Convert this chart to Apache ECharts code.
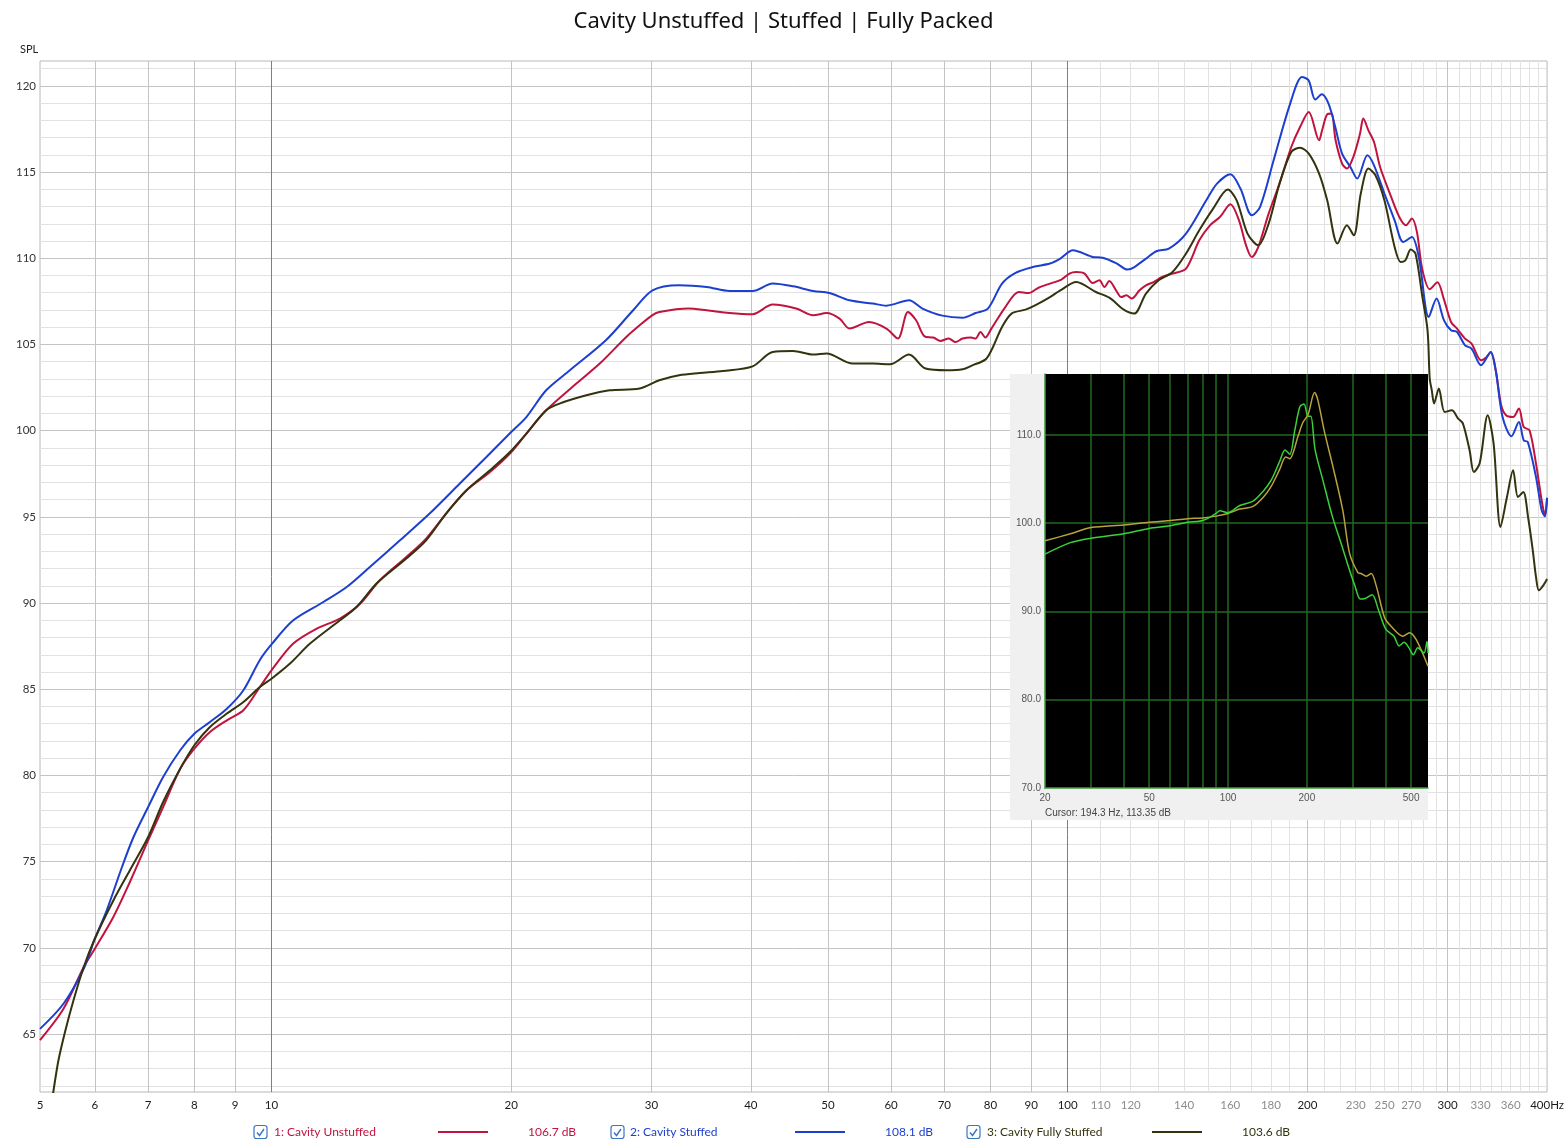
<!DOCTYPE html>
<html>
<head>
<meta charset="utf-8">
<script src="https://cdn.jsdelivr.net/npm/echarts@6/dist/echarts.min.js"></script>
<style>
html,body{margin:0;padding:0;background:#fff;}
#chart{width:1567px;height:1144px;}
</style>
</head>
<body>
<div id="chart"></div>
<script>
// ---------- DATA ----------
const chartTitle = 'Cavity Unstuffed | Stuffed | Fully Packed';
const seriesNames = ['1: Cavity Unstuffed', '2: Cavity Stuffed', '3: Cavity Fully Stuffed'];
const seriesReadouts = ['106.7 dB', '108.1 dB', '103.6 dB'];

const redFreq = [5.12,5.48,5.81,6.0,6.33,6.64,7.0,7.31,7.68,8.0,8.37,8.79,9.22,9.67,10.0,10.65,11.4,12.19,12.93,13.68,14.77,15.64,16.57,17.58,18.81,19.93,20.9,22.13,24.15,25.84,27.9,29.0,30.1,30.7,33.4,35.2,37.6,40.2,42.6,45.6,47.9,49.8,51.7,53.2,56.3,59.2,61.2,63.0,64.5,66.1,67.8,69.2,70.9,72.3,73.8,75.6,76.6,77.7,78.8,80.2,83.5,86.8,89.3,91.9,95.0,98.2,100.5,102.5,105.0,107.5,109.6,111.2,112.8,115.0,116.8,118.5,120.3,123.1,125.4,128.2,131.4,135.4,140.8,146.3,150.9,155.3,160.1,164.1,167.5,170.3,173.5,178.8,184.5,190.9,195.8,200.8,206.9,208.7,211.8,214.4,217.0,221.1,224.2,228.4,232.9,235.1,238.6,242.5,246.8,253.9,260.9,266.0,270.6,274.6,278.7,284.9,291.3,296.9,303.0,308.3,315.5,321.5,330.5,335.9,339.8,344.8,350.3,355.3,362.6,368.7,373.9,380.2,387.4,393.8,397.5,400];
const redSpl = [64.65,66.47,68.89,69.95,71.79,73.82,76.23,78.17,80.39,81.55,82.52,83.2,83.78,85.13,86.1,87.65,88.52,89.1,89.97,91.32,92.67,93.74,95.19,96.54,97.6,98.67,99.83,101.18,102.73,103.89,105.43,106.11,106.7,106.88,107.08,106.98,106.82,106.75,107.31,107.08,106.69,106.82,106.5,105.92,106.3,105.92,105.34,106.88,106.4,105.47,105.4,105.2,105.34,105.14,105.34,105.4,105.34,105.72,105.4,105.92,107.17,108.04,107.98,108.29,108.53,108.76,109.11,109.2,109.11,108.56,108.72,108.33,108.68,108.14,107.75,107.85,107.66,108.14,108.43,108.62,108.91,109.11,109.4,111.04,111.91,112.39,113.13,112.2,110.75,110.07,110.65,112.59,114.33,116.45,117.61,118.48,116.84,117.42,118.35,118.39,116.84,115.49,115.2,115.87,117.23,118.1,117.42,116.74,115.29,113.75,112.39,111.91,112.3,111.5,109.4,108.2,108.6,107.6,106.3,105.92,105.34,105.05,104.08,104.27,104.56,103.5,101.47,100.89,100.79,101.28,100.21,100.02,98.09,95.96,95.09,96.1];

const blueFreq = [5.12,5.48,5.81,6.0,6.21,6.49,6.71,7.0,7.31,7.68,8.0,8.37,8.79,9.22,9.67,10.0,10.65,11.62,12.43,13.29,14.5,15.8,17.24,18.62,20.0,20.9,22.13,23.7,26.3,28.46,30.1,32.5,35.2,37.6,40.2,42.6,45.2,47.9,50.2,53.2,56.9,59.2,63.2,65.7,69.6,73.8,76.6,79.4,82.7,85.9,90.4,95.0,97.9,101.5,107.5,110.6,115.0,118.9,121.3,125.4,129.4,134.0,140.8,149.3,154.0,160.1,164.8,170.3,174.4,181.4,190.3,196.9,200.7,204.6,208.5,212.6,216.8,221.1,226.5,231.0,237.9,242.5,249.9,257.4,263.9,270.6,276.2,284.1,290.6,296.9,303.0,308.3,315.5,321.5,330.5,339.8,344.8,351.7,360.8,368.7,373.9,378.3,387.4,393.8,397.5,400];
const blueSpl = [65.3,66.76,68.79,70.53,72.18,74.69,76.43,78.17,79.91,81.46,82.42,83.1,83.87,84.94,86.7,87.6,89.0,90.06,90.93,92.09,93.64,95.19,96.93,98.47,99.92,100.79,102.34,103.5,105.24,106.98,108.14,108.43,108.33,108.1,108.1,108.53,108.37,108.1,107.98,107.56,107.37,107.25,107.56,107.08,106.67,106.55,106.82,107.08,108.53,109.14,109.49,109.69,109.98,110.46,110.07,110.03,109.72,109.34,109.49,109.98,110.42,110.56,111.43,113.36,114.33,114.87,114.04,112.49,112.97,115.68,118.97,120.51,120.32,119.2,119.51,118.97,117.61,116.07,115.29,114.62,115.97,115.39,113.75,112.2,110.94,111.23,110.0,106.59,107.66,106.4,105.82,105.72,104.95,104.76,103.79,104.56,103.5,100.79,99.67,100.5,99.44,99.34,97.31,95.38,95.03,96.1];

const oliveFreq = [5.2,5.32,5.4,5.51,5.64,5.81,6.0,6.33,6.64,7.0,7.31,7.68,8.0,8.37,8.79,9.22,9.67,10.0,10.55,11.18,12.19,12.79,13.55,14.77,15.64,16.57,17.58,18.81,19.93,20.9,22.13,23.0,24.86,26.59,28.99,30.7,32.5,34.5,36.9,40.2,42.6,45.2,47.9,49.8,53.7,56.9,59.8,63.2,66.3,70.5,73.8,75.9,78.8,80.2,82.7,85.0,88.5,91.0,95.0,97.9,102.5,108.5,112.8,117.6,121.2,125.4,130.1,135.4,140.8,146.3,152.3,158.9,163.0,168.2,173.5,178.8,184.5,190.9,195.8,200.8,206.9,211.8,218.2,224.2,228.7,233.4,238.6,243.5,249.9,257.4,261.9,265.5,269.7,273.4,278.7,283.1,284.9,286.6,288.5,292.5,297.5,303.7,309.3,313.6,319.7,323.7,329.1,336.9,342.7,349.6,356.2,362.6,367.7,373.4,378.6,383.8,387.4,390.6,395.7,400];
const oliveSpl = [58.5,61.62,63.47,65.21,66.95,68.89,70.53,72.75,74.5,76.43,78.46,80.39,81.75,82.81,83.59,84.26,85.13,85.61,86.49,87.65,89.0,89.77,91.13,92.58,93.64,95.19,96.54,97.7,98.76,99.83,101.18,101.57,102.05,102.34,102.44,102.92,103.21,103.34,103.46,103.73,104.56,104.62,104.41,104.47,103.89,103.89,103.85,104.41,103.6,103.5,103.56,103.79,104.12,104.66,106.01,106.79,107.02,107.27,107.75,108.14,108.62,108.04,107.71,107.02,106.79,107.95,108.72,109.2,110.27,111.62,112.88,113.98,113.36,111.43,110.75,112.01,114.33,116.16,116.41,116.07,114.91,113.36,110.85,111.91,111.33,113.75,115.2,114.81,113.36,110.65,109.78,109.88,110.5,110.27,107.85,105.82,103.0,102.34,101.57,102.44,101.08,101.18,100.7,100.41,98.86,97.6,98.09,100.89,99.25,94.41,96.15,97.7,96.15,96.44,94.99,93.06,91.51,90.74,91.03,91.4];

// inset (pasted measurement screenshot)
const insetYellowFreq = [20,25,30,40,50,60,70,80,90,100,110.8,124.6,136,146.3,157.4,166,172,185,193,202,214,220,234,251,274,291,313,322,337,352,368,396,420,465,493,523,580];
const insetYellowSpl = [98.0,98.8,99.5,99.8,100.1,100.3,100.5,100.6,100.8,101.1,101.6,101.9,102.9,104.2,106.1,107.5,107.3,109.85,111.4,112.3,114.8,114.0,110.2,106.5,101.5,96.6,94.4,94.3,94.0,94.3,92.9,89.3,88.3,87.2,87.6,86.8,83.8];
const insetGreenFreq = [20,25,30,40,50,60,70,80,90,93,100,110.8,124.6,136,146.3,157.4,165,172,180,188,195,202,207,215,230,250,275,290,305,320,335,355,375,400,430,450,470,490,510,530,560,575,580];
const insetGreenSpl = [96.5,97.8,98.3,98.8,99.4,99.7,100.1,100.3,101.1,101.4,101.2,102.0,102.5,103.6,104.9,107.0,108.3,107.8,110.6,113.2,113.5,112.1,112.1,108.3,104.9,100.8,97.0,94.8,92.9,91.4,91.5,91.9,90.2,88.0,87.2,86.1,86.5,85.9,85.1,85.9,85.3,86.6,85.3];
const insetCursorHz = 194.3;
const insetCursorText = 'Cursor: 194.3 Hz, 113.35 dB';

// axis ticks / labels
const xLabelValues = [5.12,6,7,8,9,10,20,30,40,50,60,70,80,90,100,110,120,140,160,180,200,230,250,270,300,330,360,400];
const xGreyLabels = [110,120,140,160,180,230,250,270,330,360];
const xGridMedium = [6,7,8,9,20,30,40,50,60,70,80,90,200,300];
const xGridDark = [10,100];
const xGridLight = [110,120,130,140,150,160,170,180,190,210,220,230,240,250,260,270,280,290,310,320,330,340,350,360,370,380,390];
const yLabelValues = [65,70,75,80,85,90,95,100,105,110,115,120];
const yGridLight = [62,63,64,66,67,68,69,71,72,73,74,76,77,78,79,81,82,83,84,86,87,88,89,91,92,93,94,96,97,98,99,101,102,103,104,106,107,108,109,111,112,113,114,116,117,118,119,121];
const insetXGrid = [30,40,50,60,70,80,90,100,200,300,400,500];
const insetXLabels = [20,50,100,200,500];
const insetYGrid = [80,90,100,110];
const insetYLabels = [70,80,90,100,110];

// ---------- CHART ----------
const zip = (f, v) => f.map((x, i) => [x, v[i]]);
const COLORS = ['#c0143f', '#1d3fcf', '#33330e'];
const FONT = 'Lato, "Noto Sans", sans-serif';
const INSET_FONT = '"Liberation Sans", Arial, sans-serif';

const X_MIN = 5.12, X_MAX = 400, Y_MIN = 61.64, Y_MAX = 121.44;

function mainX(ticks, color, labels) {
  const ax = {
    type: 'log', logBase: 10, gridIndex: 0, position: 'bottom',
    min: X_MIN, max: X_MAX,
    axisLine: {show: false},
    axisTick: {show: false, customValues: ticks},
    splitLine: {show: true, lineStyle: {color: color, width: 1}},
    minorTick: {show: false}, minorSplitLine: {show: false},
    axisLabel: {show: false}
  };
  if (labels) {
    ax.axisLabel = {
      show: true, customValues: xLabelValues, margin: 7,
      fontFamily: FONT, fontSize: 11.5,
      formatter: function (v) {
        const r = Math.round(v);
        const s = r === 400 ? '400Hz' : String(r);
        return xGreyLabels.indexOf(r) >= 0 ? '{g|' + s + '}' : '{b|' + s + '}';
      },
      rich: {
        g: {color: '#8c8c8c', fontFamily: FONT, fontSize: 11.5},
        b: {color: '#1a1a1a', fontFamily: FONT, fontSize: 11.5}
      }
    };
  }
  return ax;
}

const option = {
  animation: false,
  backgroundColor: '#ffffff',
  title: {
    text: chartTitle, left: 'center', top: 6,
    textStyle: {fontFamily: '"Noto Sans", sans-serif', fontSize: 22, fontWeight: 'normal', color: '#111'}
  },
  grid: [
    {left: 40, top: 61, width: 1508, height: 1031, show: true, backgroundColor: '#fff', borderColor: '#b8b8b8', borderWidth: 1, containLabel: false},
    {left: 1045, top: 374, width: 383, height: 414, show: true, backgroundColor: '#000', borderWidth: 0, z: 10, containLabel: false}
  ],
  xAxis: [
    mainX(xGridLight, '#e2e2e2', true),
    mainX(xGridMedium, '#c4c4c4', false),
    mainX(xGridDark, '#7f7f7f', false),
    {
      type: 'log', logBase: 10, gridIndex: 1, min: 20, max: 580, z: 11,
      axisLine: {show: true, lineStyle: {color: '#3d9a3d', width: 1.5}},
      axisTick: {show: false, customValues: insetXGrid},
      splitLine: {show: true, lineStyle: {color: '#1f6a1f', width: 1.5}},
      minorTick: {show: false}, minorSplitLine: {show: false},
      axisLabel: {show: true, customValues: insetXLabels, margin: 5, color: '#555', fontSize: 10, fontFamily: INSET_FONT}
    }
  ],
  yAxis: [
    {
      type: 'value', gridIndex: 0, min: Y_MIN, max: Y_MAX,
      axisLine: {show: false},
      axisTick: {show: false, customValues: yGridLight},
      splitLine: {show: true, lineStyle: {color: '#e2e2e2', width: 1}},
      axisLabel: {show: false}
    },
    {
      type: 'value', gridIndex: 0, min: Y_MIN, max: Y_MAX, position: 'left',
      axisLine: {show: false},
      axisTick: {show: false, customValues: yLabelValues},
      splitLine: {show: true, lineStyle: {color: '#c4c4c4', width: 1}},
      axisLabel: {show: true, customValues: yLabelValues, margin: 4, color: '#333', fontSize: 11.5, fontFamily: FONT}
    },
    {
      type: 'value', gridIndex: 1, min: 70, max: 116.9, z: 11,
      axisLine: {show: true, lineStyle: {color: '#3d9a3d', width: 1.5}},
      axisTick: {show: false, customValues: insetYGrid},
      splitLine: {show: true, lineStyle: {color: '#1f6a1f', width: 1.5}},
      axisLabel: {show: true, customValues: insetYLabels, margin: 4, color: '#555', fontSize: 10, fontFamily: INSET_FONT,
        formatter: v => Number(v).toFixed(1)}
    }
  ],
  series: [
    {name: seriesNames[0], type: 'line', xAxisIndex: 0, yAxisIndex: 0, data: zip(redFreq, redSpl), showSymbol: false, smooth: 0.3, lineStyle: {color: COLORS[0], width: 2}, itemStyle: {color: COLORS[0]}, z: 3},
    {name: seriesNames[1], type: 'line', xAxisIndex: 0, yAxisIndex: 0, data: zip(blueFreq, blueSpl), showSymbol: false, smooth: 0.3, lineStyle: {color: COLORS[1], width: 2}, itemStyle: {color: COLORS[1]}, z: 3},
    {name: seriesNames[2], type: 'line', xAxisIndex: 0, yAxisIndex: 0, data: zip(oliveFreq, oliveSpl), showSymbol: false, smooth: 0.3, lineStyle: {color: COLORS[2], width: 2}, itemStyle: {color: COLORS[2]}, z: 3},
    {name: 'inset-yellow', type: 'line', xAxisIndex: 3, yAxisIndex: 2, data: zip(insetYellowFreq, insetYellowSpl), showSymbol: false, smooth: 0.3, lineStyle: {color: '#b9a23c', width: 1.5}, z: 13,
      markLine: {silent: true, symbol: 'none', label: {show: false}, lineStyle: {color: '#a89a38', width: 1.5, type: 'solid'}, data: [{xAxis: insetCursorHz}]}},
    {name: 'inset-green', type: 'line', xAxisIndex: 3, yAxisIndex: 2, data: zip(insetGreenFreq, insetGreenSpl), showSymbol: false, smooth: 0.3, lineStyle: {color: '#39d23a', width: 1.5}, z: 14}
  ],
  graphic: [
    {type: 'text', x: 20, y: 49, z: 5, style: {text: 'SPL', fill: '#222', font: '11px ' + FONT, verticalAlign: 'middle'}},
    {type: 'rect', z: 9, shape: {x: 1010, y: 374, width: 418, height: 446}, style: {fill: '#f0f0f0'}},
    {type: 'text', x: 1045, y: 813, z: 12, style: {text: insetCursorText, fill: '#444', font: '10px ' + INSET_FONT, verticalAlign: 'middle'}}
  ]
};

// legend row (checkbox, name, line sample, readout)
const legendLayout = [
  {box: 254, name: 274, line: 438, read: 528},
  {box: 611, name: 630, line: 795, read: 885},
  {box: 967, name: 987, line: 1152, read: 1242}
];
const LY = 1132;
legendLayout.forEach((p, i) => {
  option.graphic.push(
    {type: 'rect', shape: {x: p.box, y: LY - 6.5, width: 13, height: 13, r: 2.5}, style: {fill: '#fff', stroke: '#3a76c0', lineWidth: 1.2}},
    {type: 'polyline', shape: {points: [[p.box + 3, LY + 0.5], [p.box + 5.5, LY + 3.5], [p.box + 10, LY - 3]]}, style: {stroke: '#3a76c0', lineWidth: 1.4, fill: null}},
    {type: 'text', x: p.name, y: LY, style: {text: seriesNames[i], fill: COLORS[i], font: '12px ' + FONT, verticalAlign: 'middle'}},
    {type: 'line', shape: {x1: p.line, y1: LY, x2: p.line + 50, y2: LY}, style: {stroke: COLORS[i], lineWidth: 2}},
    {type: 'text', x: p.read, y: LY, style: {text: seriesReadouts[i], fill: COLORS[i], font: '12px ' + FONT, verticalAlign: 'middle'}}
  );
});

const chart = echarts.init(document.getElementById('chart'), null, {renderer: 'canvas'});
chart.setOption(option);
</script>
</body>
</html>
